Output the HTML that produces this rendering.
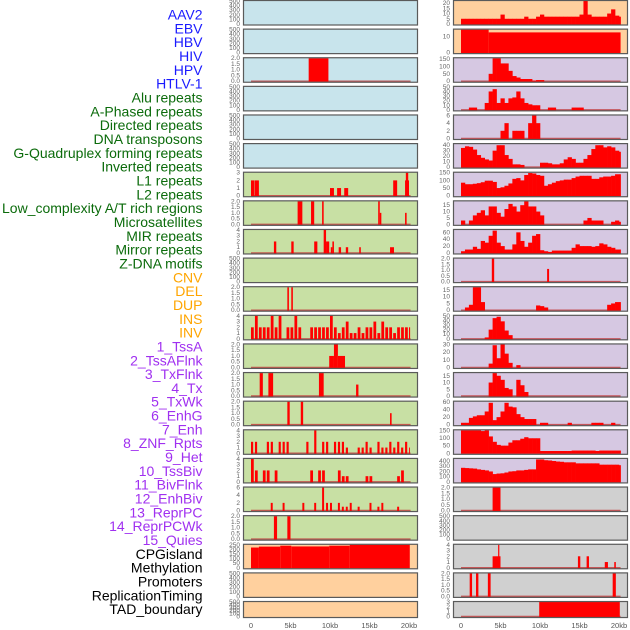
<!DOCTYPE html>
<html><head><meta charset="utf-8"><style>
html,body{margin:0;padding:0;background:#fff;}
svg{display:block;}
</style></head><body>
<svg id="chart" width="630" height="630" xmlns="http://www.w3.org/2000/svg" font-family="Liberation Sans, sans-serif"></svg>
<script>
// ---------- labels ----------
const labelNames = ["AAV2","EBV","HBV","HIV","HPV","HTLV-1","Alu repeats","A-Phased repeats","Directed repeats","DNA transposons","G-Quadruplex forming repeats","Inverted repeats","L1 repeats","L2 repeats","Low_complexity A/T rich regions","Microsatellites","MIR repeats","Mirror repeats","Z-DNA motifs","CNV","DEL","DUP","INS","INV","1_TssA","2_TssAFlnk","3_TxFlnk","4_Tx","5_TxWk","6_EnhG","7_Enh","8_ZNF_Rpts","9_Het","10_TssBiv","11_BivFlnk","12_EnhBiv","13_ReprPC","14_ReprPCWk","15_Quies","CPGisland","Methylation","Promoters","ReplicationTiming","TAD_boundary"];
const labelGroups = [6,13,5,15,5];
const groupColors = ["#1a1aff","#0b6b0b","#ffa500","#a030f0","#000000"];

// ---------- x axis ----------
const xTickKb = [0,5,10,15,20];
const xTickLabels = ["0","5kb","10kb","15kb","20kb"];

// ---------- tick sets ----------
const ticksEmpty = [0,100,200,300,400,500];
const ticks2 = [0,0.5,1,1.5,2];

// ---------- left column data ----------
const hbvSegs = [[7.3,9.8,2]];
const aluSegs = [[0,0.45,2],[0.5,1.0,2],[10.0,10.5,1],[10.9,11.4,1],[11.8,12.3,1],[18.0,18.5,2],[19.5,20.0,2],[19.6,19.9,3]];
const aphasedSegs = [[5.9,6.5,2],[7.6,8.0,2],[9.0,9.2,2],[16.1,16.3,2],[16.3,16.5,1],[19.5,19.7,1]];
const directedSegs = [[2.9,3.2,2],[5.1,5.4,2],[8.0,8.4,2],[9.2,9.5,4],[9.5,9.9,2],[10.1,10.3,1],[10.3,10.5,2],[11.1,11.4,1],[12.0,12.3,1],[13.7,13.9,1],[17.6,18.1,1]];
const gquadSegs = [[4.6,4.8,2],[5.1,5.3,2]];
const invertedBins = [2,4,2,2,2,4,2,4,0,2,2,4,2,0,0,2,2,2,2,2,4,2,1,2,3,1,1,2,1,2,2,3,1,3,2,2,1,2,2,2,2];
const l1Segs = [[9.9,10.5,1],[10.5,11.0,2],[11.0,11.9,1]];
const l2Segs = [[1.1,1.5,2],[2.2,2.8,2],[8.6,9.2,2],[13.3,13.6,1]];
const lowSegs = [[4.6,4.9,2],[6.3,6.6,2],[17.6,17.8,1]];
const microBins = [2,2,0,0,2,2,0,2,2,2,0,0,0,0,2,0,4,0,2,2,0,2,2,2,1,0,0,1,1,2,1,0,2,1,1,2,1,2,1,2,1];
const mirBins = [4,2,0,2,2,0,2,0,0,0,0,0,0,0,0,2,0,2,2,0,0,0,2,1,1,0,0,0,0,1,1,0,0,0,0,0,0,1,2,0,0];
const mirrorBins = [0,0,0,0,0,2,0,0,2,0,0,0,0,2,0,0,2,0,6,2,2,0,2,1,1,2,0,1,0,0,2,0,1,2,0,0,0,1,0,0,0];
const zdnaSegs = [[2.9,3.3,2],[4.6,5.0,2]];
const cnvSegs = [[0,1.0,220],[1.0,3.7,230],[3.7,5.1,240],[5.1,9.9,232],[9.9,12.5,240],[12.5,20.1,250]];

// ---------- right column data ----------
const insBins = [5,5,5,5,5,5,5,5,5,5,9,5,5,5,5,5,7,5,5,7,9,7,7,7,7,7,7,7,7,7,9,22,9,7,7,7,7,10,14,8,7];
const invSegs = [[0,3.5,14.1],[3.5,20.2,12.4]];
const tssaBins = [0,0,0,0,0,0,0,50,155,155,120,120,70,35,25,15,15,15,5,8,8];
const tssaflnkBins = [0,0,5,5,0,0,15,40,45,15,25,15,25,27,40,25,15,12,10,10,0,0,5,5,0,0,0,0,5,5,5];
const txflnkBins = [0,0,0,0,0,0,0,0,0,0,2,4,0,2,2,2,0,4,6,4];
const txBins = [35,38,37,32,22,17,14,12,30,40,40,22,15,5,5,4,0,0,0,0,8,8,7,5,5,7,14,18,15,8,8,15,22,33,40,40,36,38,36,30,28];
const txwkBins = [85,75,75,78,82,88,98,98,90,50,55,65,80,110,115,100,135,148,145,135,130,65,75,85,95,100,105,105,115,125,130,130,130,110,110,120,125,125,130,140,140];
const enhgBins = [3,0,3,7,9,11,7,14,14,9,6,12,16,14,10,15,18,14,14,10,7,0,0,0,0,0,0,0,0,0,0,3,5,3,3,3,0,0,2,3,2];
const enhBins = [5,10,10,18,12,35,30,50,65,30,20,10,10,25,60,35,18,30,50,55,8,5,3,7,7,7,7,7,15,25,20,20,20,18,20,28,25,18,15,10,10];
const znfSegs = [[3.9,4.2,2],[10.9,11.15,1.1]];
const hetBins = [0,2,4,17,17,6,0,0,0,0,0,0,0,0,0,0,0,0,0,3.5,3,2,0,0,0,0,0,0,0,0,0,0,0,0,0,0,0,4,5,6,6];
const tssbivBins = [0,0,0,0,0,0,3,20,45,48,38,18,8];
const bivflnkBins = [0,0,0,0,0,0,0,5,29,12,30,18,6,0,3];
const enhbivBins = [0,0,0,0,0,0,0,10,17,15,12,6,5,0,12,8,3];
const reprpcBins = [5,5,18,22,25,25,35,58,12,20,35,58,48,46,28,20,15,15,15,0,5,5,0,0,0,0,0,5,0,0,0,0,0,5,5,5,0,0,5,0,0];
const reprpcwkBins = [150,150,150,150,150,145,150,110,75,55,50,50,70,85,85,95,105,98,98,98,15,15,15,15,15,15,15,15,18,18,18,18,18,18,15,18,18,18,18,18,18];
const quiesBins = [270,265,260,255,240,230,220,200,150,160,165,180,200,205,220,220,230,240,240,430,430,415,410,400,390,385,375,375,375,355,355,355,355,355,355,330,330,330,330,330,320];
const cpgSegs = [[4.0,5.0,2]];
const promoterSegs = [[4.0,5.0,2],[4.7,4.8,4],[14.8,15.1,2],[15.9,16.2,2],[18.2,18.6,1],[19.4,19.6,1]];
const reptimeSegs = [[1.1,1.4,2],[1.9,2.2,2],[3.4,3.75,2],[19.2,19.6,2]];
const tadSegs = [[9.9,20.1,3]];

const BLUE="#c8e4ec", GREEN="#c8e0a4", PEACH="#ffd09e", LAV="#d6c8e2", GRAY="#d0d0d0";

const panels = [
 {name:"aav2",col:0,row:0,bg:BLUE,ymax:500,ticks:ticksEmpty},
 {name:"ebv",col:0,row:1,bg:BLUE,ymax:500,ticks:ticksEmpty},
 {name:"hbv",col:0,row:2,bg:BLUE,ymax:2,ticks:ticks2,segs:hbvSegs},
 {name:"hiv",col:0,row:3,bg:BLUE,ymax:500,ticks:ticksEmpty},
 {name:"hpv",col:0,row:4,bg:BLUE,ymax:500,ticks:ticksEmpty},
 {name:"htlv1",col:0,row:5,bg:BLUE,ymax:500,ticks:ticksEmpty},
 {name:"alu",col:0,row:6,bg:GREEN,ymax:3,ticks:[0,1,2,3],segs:aluSegs},
 {name:"aphased",col:0,row:7,bg:GREEN,ymax:2,ticks:ticks2,segs:aphasedSegs},
 {name:"directed",col:0,row:8,bg:GREEN,ymax:4,ticks:[0,1,2,3,4],segs:directedSegs},
 {name:"dna-transposons",col:0,row:9,bg:GREEN,ymax:500,ticks:ticksEmpty},
 {name:"gquad",col:0,row:10,bg:GREEN,ymax:2,ticks:ticks2,segs:gquadSegs},
 {name:"inverted",col:0,row:11,bg:GREEN,ymax:4,ticks:[0,1,2,3,4],bins:invertedBins,frac:0.7},
 {name:"l1",col:0,row:12,bg:GREEN,ymax:2,ticks:ticks2,segs:l1Segs},
 {name:"l2",col:0,row:13,bg:GREEN,ymax:2,ticks:ticks2,segs:l2Segs},
 {name:"low-complexity",col:0,row:14,bg:GREEN,ymax:2,ticks:ticks2,segs:lowSegs},
 {name:"microsatellites",col:0,row:15,bg:GREEN,ymax:4,ticks:[0,1,2,3,4],bins:microBins,frac:0.55},
 {name:"mir",col:0,row:16,bg:GREEN,ymax:4,ticks:[0,1,2,3,4],bins:mirBins,frac:0.7},
 {name:"mirror",col:0,row:17,bg:GREEN,ymax:6,ticks:[0,2,4,6],bins:mirrorBins,frac:0.5},
 {name:"zdna",col:0,row:18,bg:GREEN,ymax:2,ticks:ticks2,segs:zdnaSegs},
 {name:"cnv",col:0,row:19,bg:PEACH,ymax:250,ticks:[0,50,100,150,200,250],segs:cnvSegs,nobase:true},
 {name:"del",col:0,row:20,bg:PEACH,ymax:500,ticks:ticksEmpty},
 {name:"dup",col:0,row:21,bg:PEACH,ymax:500,ticks:ticksEmpty},
 {name:"ins",col:1,row:0,bg:PEACH,ymax:22,ticks:[0,5,10,15,20],bins:insBins,nobase:true},
 {name:"inv",col:1,row:1,bg:PEACH,ymax:14.1,ticks:[0,10],segs:invSegs,nobase:true},
 {name:"tssa",col:1,row:2,bg:LAV,ymax:155,ticks:[0,50,100,150],bins:tssaBins},
 {name:"tssaflnk",col:1,row:3,bg:LAV,ymax:50,ticks:[0,10,20,30,40,50],bins:tssaflnkBins},
 {name:"txflnk",col:1,row:4,bg:LAV,ymax:6,ticks:[0,2,4,6],bins:txflnkBins},
 {name:"tx",col:1,row:5,bg:LAV,ymax:42,ticks:[0,10,20,30,40],bins:txBins},
 {name:"txwk",col:1,row:6,bg:LAV,ymax:150,ticks:[0,50,100,150],bins:txwkBins},
 {name:"enhg",col:1,row:7,bg:LAV,ymax:18,ticks:[0,5,10,15],bins:enhgBins},
 {name:"enh",col:1,row:8,bg:LAV,ymax:67,ticks:[0,20,40,60],bins:enhBins},
 {name:"znf-rpts",col:1,row:9,bg:LAV,ymax:2,ticks:ticks2,segs:znfSegs},
 {name:"het",col:1,row:10,bg:LAV,ymax:17,ticks:[0,5,10,15],bins:hetBins},
 {name:"tssbiv",col:1,row:11,bg:LAV,ymax:50,ticks:[0,10,20,30,40,50],bins:tssbivBins},
 {name:"bivflnk",col:1,row:12,bg:LAV,ymax:30,ticks:[0,10,20,30],bins:bivflnkBins},
 {name:"enhbiv",col:1,row:13,bg:LAV,ymax:17,ticks:[0,5,10,15],bins:enhbivBins},
 {name:"reprpc",col:1,row:14,bg:LAV,ymax:61,ticks:[0,20,40,60],bins:reprpcBins},
 {name:"reprpcwk",col:1,row:15,bg:LAV,ymax:150,ticks:[0,50,100,150],bins:reprpcwkBins,nobase:true},
 {name:"quies",col:1,row:16,bg:LAV,ymax:440,ticks:[0,100,200,300,400],bins:quiesBins,nobase:true},
 {name:"cpgisland",col:1,row:17,bg:GRAY,ymax:2,ticks:ticks2,segs:cpgSegs},
 {name:"methylation",col:1,row:18,bg:GRAY,ymax:500,ticks:ticksEmpty},
 {name:"promoters",col:1,row:19,bg:GRAY,ymax:4,ticks:[0,1,2,3,4],segs:promoterSegs},
 {name:"replication-timing",col:1,row:20,bg:GRAY,ymax:2,ticks:ticks2,segs:reptimeSegs},
 {name:"tad-boundary",col:1,row:21,bg:GRAY,ymax:3,ticks:[0,1,2,3],segs:tadSegs}
];

const NS="http://www.w3.org/2000/svg";
const svg=document.getElementById("chart");
function mk(tag,attrs,parent){const e=document.createElementNS(NS,tag);for(const k in attrs)e.setAttribute(k,attrs[k]);(parent||svg).appendChild(e);return e;}

const colFrameX=[243,453], frameW=174, zeroX=[251,461], pxPerKb=7.9;
const rowStep=28.62;
function xScale(col,kb){return zeroX[col]+kb*pxPerKb;}
function rowTop(r){return r*rowStep+0.5;}
function rowH(r){return r===21?16:24.5;}

let li=0;
labelGroups.forEach((n,g)=>{
  for(let k=0;k<n;k++){
    const t=mk("text",{x:202.5,y:(15+13.83*li+4.5).toFixed(1),"text-anchor":"end","font-size":"14",fill:groupColors[g]});
    
    
    t.textContent=labelNames[li];li++;
  }
});

function fmt(v,ymax){ if(ymax<=2.0001) return v.toFixed(1); return String(v); }

panels.forEach(p=>{
  const g=mk("g",{});
  
  
  const top=rowTop(p.row), h=rowH(p.row), fx=colFrameX[p.col];
  const bottom=top+h;
  const yScale=v=>bottom-1-(Math.min(v,p.ymax)/p.ymax)*(h-1.5);
  mk("rect",{x:fx+0.5,y:top,width:frameW,height:h,fill:p.bg},g);
  if(!p.nobase && (p.segs||p.bins)){
    const bl=mk("line",{x1:xScale(p.col,0),x2:xScale(p.col,20.2),y1:bottom-1,y2:bottom-1,stroke:"#c0383a","stroke-width":1.5,"stroke-opacity":0.8},g);
    
    
  }
  if(p.segs){
    p.segs.forEach(s=>{
      const x0=xScale(p.col,s[0]), x1=xScale(p.col,s[1]);
      const y=yScale(s[2]);
      const r=mk("rect",{x:x0.toFixed(2),y:y.toFixed(2),width:Math.max(1.2,x1-x0).toFixed(2),height:(bottom-1-y+0.5).toFixed(2),fill:"#ff0000"},g);
      
      
    });
  }
  if(p.bins){
    const frac=p.frac||1;
    p.bins.forEach((v,i)=>{
      if(v<=0) return;
      const k0=i*0.5, k1=Math.min((i+1)*0.5,20.2);
      const x0=xScale(p.col,k0), x1=xScale(p.col,k1);
      const w=(x1-x0)*frac+(frac<1?0:0.3);
      const y=yScale(v);
      const r=mk("rect",{x:x0.toFixed(2),y:y.toFixed(2),width:w.toFixed(2),height:(bottom-1-y+0.5).toFixed(2),fill:"#ff0000"},g);
      
      
    });
  }
  mk("rect",{x:fx+0.5,y:top,width:frameW,height:h,fill:"none",stroke:"#5a5a5a","stroke-width":1.2},g);
  p.ticks.forEach(tv=>{
    const ty=yScale(tv);
    const t=mk("text",{x:fx-3,y:(ty+2).toFixed(1),"text-anchor":"end","font-size":"6.5",fill:"#666"},g);
    
    
    t.textContent=fmt(tv,p.ymax);
  });
});

[0,1].forEach(col=>{
  xTickKb.forEach((kb,i)=>{
    const t=mk("text",{x:xScale(col,kb).toFixed(1),y:628,"text-anchor":"middle","font-size":"7.5",fill:"#555"});
    
    
    t.textContent=xTickLabels[i];
  });
});
</script>
</body></html>
